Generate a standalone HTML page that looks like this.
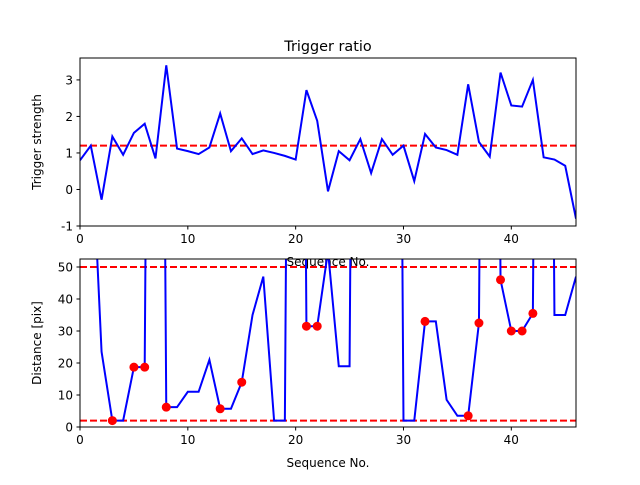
<!DOCTYPE html>
<html><head><meta charset="utf-8"><style>
body{margin:0;background:#fff;}
svg text{font-family:"DejaVu Sans","Liberation Sans",sans-serif;font-size:12px;fill:#000;}
</style></head><body>
<svg id="c" width="640" height="480" xmlns="http://www.w3.org/2000/svg">
<defs>
<clipPath id="cp1"><rect x="80" y="58" width="496" height="168"/></clipPath>
<clipPath id="cp2"><rect x="80" y="259" width="496" height="168"/></clipPath>
</defs>
<text x="328" y="51" text-anchor="middle" style="font-size:14.4px">Trigger ratio</text>
<g id="top"></g><g id="bot"></g>
</svg>
<script>
const strength=[0.8,1.2,-0.28,1.45,0.95,1.55,1.8,0.85,3.4,1.12,1.05,0.97,1.15,2.08,1.05,1.4,0.97,1.07,1.0,0.92,0.82,2.72,1.88,-0.05,1.05,0.8,1.38,0.45,1.38,0.95,1.2,0.23,1.52,1.15,1.08,0.95,2.88,1.3,0.9,3.2,2.3,2.27,3.0,0.88,0.82,0.65,-0.8];
const strengthThreshold=1.2;
const distance=[500,96,23.5,2,2,18.7,18.7,500,6.2,6.2,11,11,21,5.7,5.7,14,35,47,2,2,500,31.5,31.5,55,19,19,500,500,500,500,2,2,33,33,8.5,3.5,3.5,32.5,500,46,30,30,35.5,500,35,35,47];
const markerIdx=[3,5,6,8,13,15,21,22,32,36,37,39,40,41,42];
const distLow=2, distHigh=50;
const xTicks=[0,10,20,30,40];
const topYTicks=[-1,0,1,2,3];
const botYTicks=[0,10,20,30,40,50];
const NS="http://www.w3.org/2000/svg";
function mk(p,t,a){const e=document.createElementNS(NS,t);for(const k in a)e.setAttribute(k,a[k]);p.appendChild(e);return e;}
const X=v=>80+v*(496/46);
function panel(g,y0,yMin,yMax,yTicks,vals,thr,clip,ylabel,xlabel,marks){
  const Y=v=>y0+168-(v-yMin)/(yMax-yMin)*168;
  for(const t of thr){const l=mk(g,'line',{x1:80,x2:576,y1:Y(t),y2:Y(t),stroke:'#ff0000','stroke-width':2,'stroke-dasharray':'7,3','clip-path':`url(#${clip})`});
  
  }
  const pl=mk(g,'polyline',{points:vals.map((v,i)=>X(i)+','+Y(v)).join(' '),fill:'none',stroke:'#0000ff','stroke-width':2,'clip-path':`url(#${clip})`});
  
  
  for(const i of marks){const c=mk(g,'circle',{cx:X(i),cy:Y(vals[i]),r:4.5,fill:'#ff0000','clip-path':`url(#${clip})`});
  
  }
  const r=mk(g,'rect',{x:80,y:y0,width:496,height:168,fill:'none',stroke:'#000','stroke-width':1});
  
  
  for(const t of xTicks){mk(g,'line',{x1:X(t),x2:X(t),y1:y0+168,y2:y0+171.5,stroke:'#000'});
  const tx=mk(g,'text',{x:X(t),y:y0+185,'text-anchor':'middle'});tx.textContent=t;
  
  }
  for(const t of yTicks){mk(g,'line',{x1:76.5,x2:80,y1:Y(t),y2:Y(t),stroke:'#000'});
  const tx=mk(g,'text',{x:73,y:Y(t)+4.5,'text-anchor':'end'});tx.textContent=t;
  
  }
  const yl=mk(g,'text',{x:0,y:0,'text-anchor':'middle',transform:`translate(41,${y0+84}) rotate(-90)`});yl.textContent=ylabel;
  
  
  const xl=mk(g,'text',{x:328,y:y0+208,'text-anchor':'middle'});xl.textContent=xlabel;
  
  
}
panel(document.getElementById('top'),58,-1,3.6,topYTicks,strength,[strengthThreshold],'cp1','Trigger strength','Sequence No.',[]);
panel(document.getElementById('bot'),259,0,52.5,botYTicks,distance,[distLow,distHigh],'cp2','Distance [pix]','Sequence No.',markerIdx);
</script>
</body></html>
